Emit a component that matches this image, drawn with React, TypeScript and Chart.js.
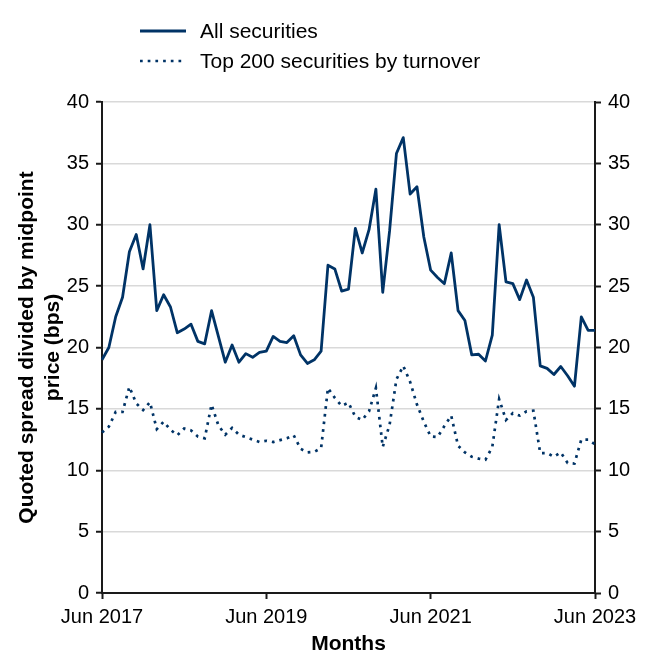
import React, { useEffect, useRef } from 'react';
import { Chart, registerables } from 'chart.js';

Chart.register(...registerables);

const monthNames = ['Jan', 'Feb', 'Mar', 'Apr', 'May', 'Jun', 'Jul', 'Aug', 'Sep', 'Oct', 'Nov', 'Dec'];
const months: string[] = [];
for (let k = 0; k <= 72; k++) {
  const m = (5 + k) % 12;
  const y = 2017 + Math.floor((5 + k) / 12);
  months.push(`${monthNames[m]} ${y}`);
}

const allSecurities = [
  19.0, 20.0, 22.5, 24.1, 27.8, 29.2, 26.4, 30.0, 23.0, 24.3, 23.3, 21.2,
  21.5, 21.9, 20.5, 20.3, 23.0, 20.9, 18.8, 20.2, 18.8, 19.5, 19.2, 19.6,
  19.7, 20.9, 20.5, 20.4, 20.95, 19.4, 18.7, 19.0, 19.7, 26.7, 26.4, 24.6,
  24.75, 29.7, 27.7, 29.6, 32.9, 24.5, 29.5, 35.8, 37.1, 32.5, 33.1, 29.0,
  26.3, 25.7, 25.2, 27.7, 23.0, 22.2, 19.4, 19.45, 18.9, 21.0, 30.0, 25.35,
  25.2, 23.9, 25.5, 24.1, 18.5, 18.3, 17.8, 18.45, 17.7, 16.85, 22.5, 21.4,
  21.4,
];

const top200 = [
  13.07, 13.55, 14.75, 14.75, 16.8, 15.45, 14.9, 15.55, 13.35, 13.95, 13.3, 12.85,
  13.4, 13.25, 12.75, 12.6, 15.35, 13.65, 12.9, 13.45, 12.9, 12.7, 12.5, 12.3,
  12.4, 12.3, 12.45, 12.6, 12.85, 11.75, 11.45, 11.5, 11.8, 16.7, 15.9, 15.25,
  15.5, 14.35, 14.1, 14.8, 16.7, 11.9, 13.7, 17.4, 18.5, 17.2, 15.35, 13.95,
  12.75, 12.7, 13.6, 14.45, 12.0, 11.45, 11.1, 10.95, 10.85, 11.9, 15.8, 14.1,
  14.65, 14.45, 14.8, 14.85, 11.4, 11.4, 11.1, 11.45, 10.6, 10.55, 12.5, 12.5,
  12.1,
];

const seriesLabels = ['All securities', 'Top 200 securities by turnover'];
const yTitle = ['Quoted spread divided by midpoint', 'price (bps)'];
const xTitle = 'Months';

const FONT = '"Liberation Sans", Arial, Helvetica, sans-serif';
const NAVY = '#003366';
const AXIS = '#1a1a1a';

const legendPlugin = {
  id: 'customLegend',
  afterDraw(chart: any) {
    const ctx = chart.ctx;
    chart.data.datasets.forEach((ds: any, i: number) => {
      const y = 31 + i * 30;
      ctx.save();
      ctx.strokeStyle = ds.borderColor;
      ctx.lineWidth = ds.borderWidth;
      ctx.lineCap = 'butt';
      ctx.setLineDash(ds.borderDash || []);
      ctx.beginPath();
      ctx.moveTo(140, y);
      ctx.lineTo(186, y);
      ctx.stroke();
      ctx.setLineDash([]);
      ctx.fillStyle = '#000';
      ctx.font = `21px ${FONT}`;
      ctx.textBaseline = 'middle';
      ctx.textAlign = 'left';
      ctx.fillText(ds.label, 200, y + 1);
      ctx.restore();
    });
  },
};

export default function App() {
  const ref = useRef<HTMLCanvasElement | null>(null);

  useEffect(() => {
    document.body.style.margin = '0';
    if (!ref.current) return;
    const tickFont = { family: FONT, size: 20 };
    const titleFont = { family: FONT, size: 21, weight: 'bold' as const };
    const chart = new Chart(ref.current, {
      type: 'line',
      data: {
        labels: months,
        datasets: [
          {
            label: seriesLabels[0],
            data: allSecurities,
            borderColor: NAVY,
            backgroundColor: NAVY,
            borderWidth: 2.8,
            pointRadius: 0,
            tension: 0,
            borderJoinStyle: 'round',
            yAxisID: 'y',
          },
          {
            label: seriesLabels[1],
            data: top200,
            borderColor: NAVY,
            backgroundColor: NAVY,
            borderWidth: 2.7,
            borderDash: [2.7, 5],
            pointRadius: 0,
            tension: 0,
            yAxisID: 'y',
          },
        ],
      },
      options: {
        responsive: false,
        animation: false,
        layout: { padding: { top: 102, left: 0, right: 0, bottom: 0 } },
        plugins: {
          legend: { display: false },
          tooltip: { enabled: false },
        },
        scales: {
          x: {
            type: 'category',
            offset: false,
            grid: {
              drawOnChartArea: false,
              drawTicks: true,
              tickLength: 6,
              tickColor: AXIS,
              tickWidth: 2,
            },
            border: { color: AXIS, width: 2 },
            ticks: { autoSkip: false, maxRotation: 0, minRotation: 0, font: tickFont, color: '#000', padding: 6 },
            afterBuildTicks: (s: any) => {
              s.ticks = s.ticks.filter((t: any) => t.value % 24 === 0);
            },
            afterFit: (s: any) => {
              s.height = 76;
            },
            title: { display: true, text: xTitle, font: titleFont, color: '#000', padding: { top: 0, bottom: 12 } },
          },
          y: {
            type: 'linear',
            position: 'left',
            min: 0,
            max: 40,
            ticks: { stepSize: 5, font: tickFont, color: '#000', padding: 7 },
            grid: { color: '#d9d9d9', lineWidth: 1.5, drawTicks: true, tickLength: 6, tickColor: AXIS, tickWidth: 2 },
            border: { color: AXIS, width: 2 },
            afterFit: (s: any) => {
              s.width = 102;
            },
            title: { display: true, text: yTitle, font: titleFont, color: '#000', padding: { top: 15, bottom: 0 } },
          },
          y2: {
            type: 'linear',
            position: 'right',
            min: 0,
            max: 40,
            ticks: { stepSize: 5, font: tickFont, color: '#000', padding: 7 },
            grid: { drawOnChartArea: false, drawTicks: true, tickLength: 6, tickColor: AXIS, tickWidth: 2 },
            border: { color: AXIS, width: 2 },
            afterFit: (s: any) => {
              s.width = 59;
            },
          },
        },
      },
      plugins: [legendPlugin],
    });
    return () => chart.destroy();
  }, []);

  return (
    <div style={{ width: 654, height: 669 }}>
      <canvas ref={ref} width={654} height={669} style={{ display: 'block' }} />
    </div>
  );
}
